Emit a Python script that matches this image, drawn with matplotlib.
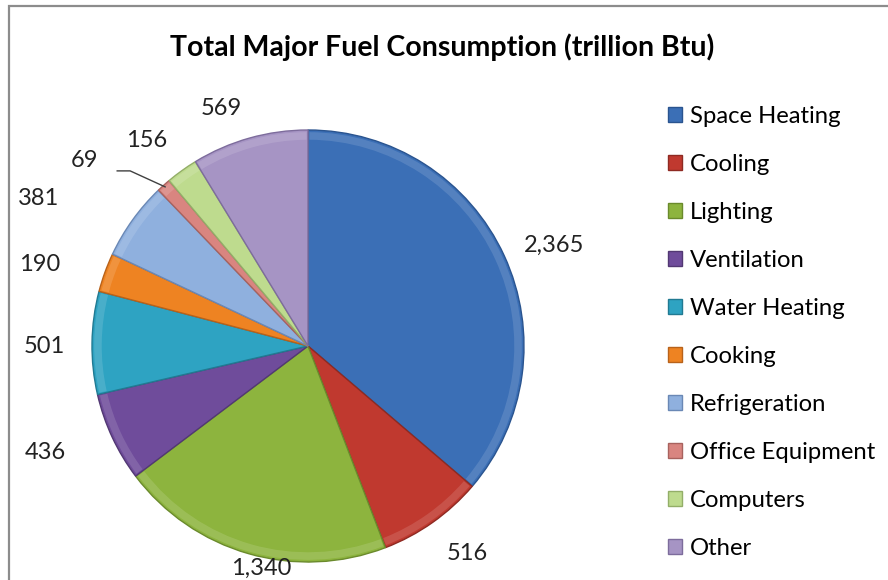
import matplotlib
matplotlib.use("Agg")
import matplotlib.pyplot as plt
import numpy as np
from matplotlib.patches import Rectangle, Wedge

categories = ["Space Heating", "Cooling", "Lighting", "Ventilation", "Water Heating",
              "Cooking", "Refrigeration", "Office Equipment", "Computers", "Other"]
values = [2365, 516, 1340, 436, 501, 190, 381, 69, 156, 569]
title = "Total Major Fuel Consumption (trillion Btu)"

colors = ["#3B6FB6", "#C0392F", "#8DB43E", "#6F4C9B", "#2EA3C2",
          "#EE8322", "#8FB0DE", "#D98580", "#BEDB8E", "#A694C4"]
edge_colors = ["#2A548F", "#8E2A22", "#6A8A2C", "#523873", "#217A92",
               "#B8621A", "#6A88B5", "#A8625E", "#93AE68", "#7D6C9C"]
# radial distance (in radii) and angular tweak for each value label
label_dist = [1.23, 1.21, 1.05, 1.31, 1.22, 1.30, 1.42, 1.0, 1.21, 1.17]
label_dang = [-2.5, 2.3, 4.0, -3.0, 1.0, 3.0, 7.0, 0.0, 2.5, 4.3]

plt.rcParams["font.family"] = ["Lato", "DejaVu Sans"]

W, H = 888, 580
fig = plt.figure(figsize=(W / 100, H / 100), dpi=100)
fig.patch.set_facecolor("white")

# chart frame
fig.add_artist(Rectangle((9 / W, -0.05), 1.2, 1 - 5.5 / H + 0.05, transform=fig.transFigure,
                         fill=False, edgecolor="#8C8C8C", linewidth=1.6))

cx, cy, r = 308, 346, 216
ax = fig.add_axes([(cx - r) / W, (H - cy - r) / H, 2 * r / W, 2 * r / H])
ax.axis("off")

wedges, _ = ax.pie(values, colors=colors, startangle=90, counterclock=False, radius=1.0,
                   wedgeprops=dict(linewidth=1.0), center=(0, 0), frame=False)
for w, ec in zip(wedges, edge_colors):
    w.set_edgecolor(ec)
ax.set_xlim(-1, 1)
ax.set_ylim(-1, 1)
ax.set_aspect("equal")

# subtle bevel highlight along the rim
for w in wedges:
    rim = Wedge((0, 0), 0.99, w.theta1 + 0.4, w.theta2 - 0.4, width=0.035, facecolor="white",
                alpha=0.13, edgecolor="none")
    ax.add_patch(rim)

for i, (w, v) in enumerate(zip(wedges, values)):
    mid = np.deg2rad((w.theta1 + w.theta2) / 2 + label_dang[i])
    txt = f"{v:,}"
    if categories[i] == "Office Equipment":
        tip = np.deg2rad((w.theta1 + w.theta2) / 2)
        px, py = np.cos(tip) * 0.99, np.sin(tip) * 0.99
        ax.plot([px, px - 0.162, px - 0.222], [py, py + 0.074, py + 0.074],
                color="#404040", lw=1.0, clip_on=False)
        ax.text(px - 0.31, py + 0.12, txt, ha="right", va="center", fontsize=17,
                color="#222222")
        continue
    x, y = np.cos(mid) * label_dist[i], np.sin(mid) * label_dist[i]
    ax.text(x, y, txt, ha="center", va="center", fontsize=17, color="#222222")

fig.text(442 / W, 1 - 47 / H, title, ha="center", va="center", fontsize=20.5,
         fontweight="bold", color="black")

leg = fig.legend(wedges, categories, loc="upper left", bbox_to_anchor=(668 / W, 1 - 106 / H),
                 frameon=False, fontsize=17.2, handlelength=0.58, handleheight=0.55,
                 handletextpad=0.32, labelspacing=1.13, borderaxespad=0, borderpad=0)

fig.savefig("out.png", dpi=100, facecolor="white")
